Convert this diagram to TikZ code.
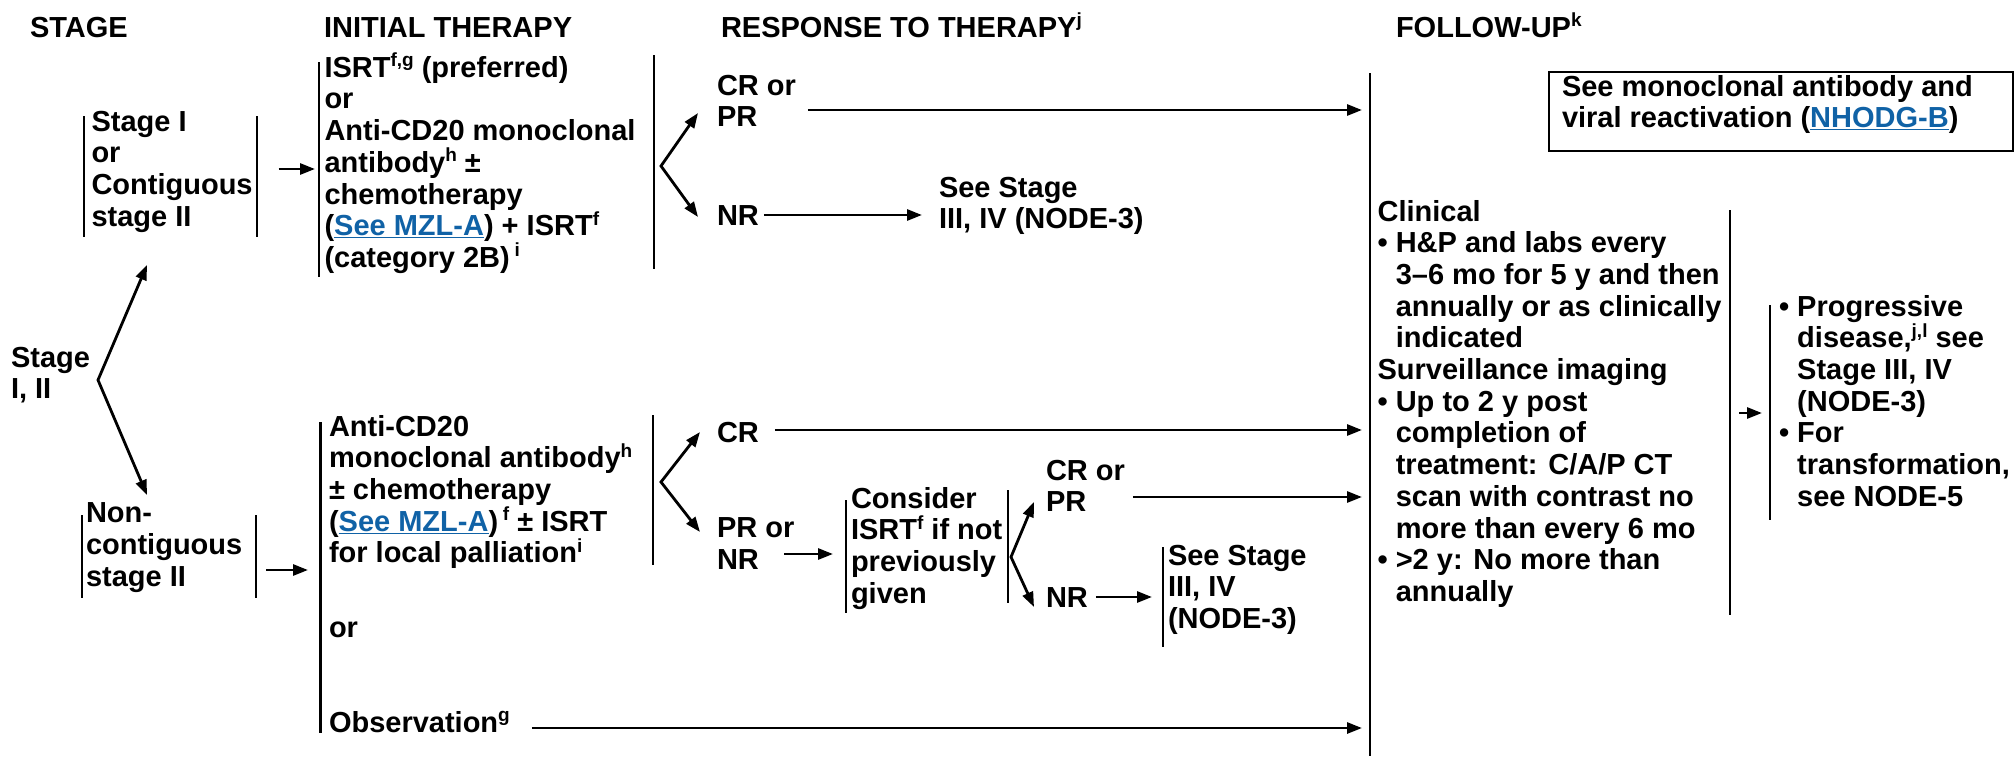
\documentclass[tikz,border=0pt]{standalone}
\usepackage{fontspec}
\setmainfont{Liberation Sans}
\usetikzlibrary{arrows.meta,calc}
\definecolor{linkblue}{RGB}{16,98,166}
\newcommand\sups[1]{\raisebox{10.5pt}{\fontsize{19}{19}\selectfont #1}}
\newcommand\lnk[1]{\textcolor{linkblue}{\underline{#1}}}
\newcommand\ind{\hphantom{•\ }}
\begin{document}
\begin{tikzpicture}[x=1pt,y=-1pt,
  txt/.style={anchor=north west, inner sep=0pt, outer sep=0pt, align=left, yshift=30pt,
    font=\bfseries\fontsize{29}{31.7}\selectfont, execute at begin node={\rule{0pt}{30pt}}},
  bar/.style={line width=2.8pt},
  arr/.style={line width=2.8pt, -{Triangle[length=15pt,width=11pt]}},
  fork/.style={line width=2.8pt, {Triangle[length=15pt,width=11pt]}-{Triangle[length=15pt,width=11pt]}},
]
\fill[white] (0,0) rectangle (2016,756);
\useasboundingbox (0,0) rectangle (2016,756);

% headers
\node[txt] (hStage) at (30,37) {STAGE};
\node[txt] (hInit) at (324,37) {INITIAL THERAPY};
\node[txt] (hResp) at (721,37) {RESPONSE TO THERAPY\sups{j}};
\node[txt] (hFU) at (1396,37) {FOLLOW-UP\sups{k}};

% stage column
\node[txt] (stage12) at (11,377) {Stage\\I, II};
\node[txt] (stageI) at (91.5,141) {Stage I\\or\\Contiguous\\stage II};
\node[txt] (noncont) at (86,533) {Non-\\contiguous\\stage II};

% initial therapy
\node[txt] (initTop) at (324.5,83) {ISRT\sups{f,g} (preferred)\\or\\Anti-CD20 monoclonal\\antibody\sups{h} ±\\chemotherapy\\(\lnk{See MZL-A}) + ISRT\sups{f}\\(category 2B)\,\sups{i}};
\node[txt] (initBot) at (329,445) {Anti-CD20\\monoclonal antibody\sups{h}\\± chemotherapy\\(\lnk{See MZL-A})\,\sups{f} ± ISRT\\for local palliation\sups{i}};
\node[txt] (orBot) at (329,637) {or};
\node[txt] (obs) at (329,732) {Observation\sups{g}};

% response
\node[txt] (crpr1) at (717,105) {CR or\\PR};
\node[txt] (nr1) at (717,225) {NR};
\node[txt] (see1) at (939,207) {See Stage\\III, IV (NODE-3)};
\node[txt] (cr2) at (717,442) {CR};
\node[txt] (prnr) at (717,548) {PR or\\NR};
\node[txt] (consider) at (851,517) {Consider\\ISRT\sups{f} if not\\previously\\given};
\node[txt] (crpr3) at (1046,490) {CR or\\PR};
\node[txt] (nr3) at (1046,607) {NR};
\node[txt] (see3) at (1168,575) {See Stage\\III, IV\\(NODE-3)};

% follow-up
\node[txt] (mab) at (1562,105) {See monoclonal antibody and\\viral reactivation (\lnk{NHODG-B})};
\draw[bar] (1549,72) rectangle (2013,151);
\node[txt] (fuText) at (1377.6,230) {Clinical\\• H\&P and labs every\\\ind 3–6 mo for 5 y and then\\\ind annually or as clinically\\\ind indicated\\Surveillance imaging\\• Up to 2 y post\\\ind completion of\\\ind treatment: C/A/P CT\\\ind scan with contrast no\\\ind more than every 6 mo\\• >2 y: No more than\\\ind annually};
\node[txt] (prog) at (1779,325) {• Progressive\\\ind disease,\sups{j,l} see\\\ind Stage III, IV\\\ind (NODE-3)\\• For\\\ind transformation,\\\ind see NODE-5};

% bars
\draw[bar] (84,116) -- (84,237);
\draw[bar] (257,116) -- (257,237);
\draw[bar] (319,62) -- (319,277);
\draw[bar] (654,55) -- (654,269);
\draw[bar] (82,515) -- (82,598);
\draw[bar] (256,515) -- (256,598);
\draw[bar] (320.5,422) -- (320.5,733);
\draw[bar] (653,415) -- (653,565);
\draw[bar] (846,500) -- (846,613);
\draw[bar] (1008,490) -- (1008,603);
\draw[bar] (1163,547) -- (1163,647);
\draw[bar] (1370,73) -- (1370,756);
\draw[bar] (1730,210) -- (1730,615);
\draw[bar] (1770,305) -- (1770,520);

% coordinates
\coordinate (s12fork) at (98,380);
\coordinate (s1tip) at (147,265);
\coordinate (s2tip) at (147,495);
\coordinate (itIn) at (315,169);
\coordinate (ibIn) at (308,570);
\coordinate (f1) at (661,166);
\coordinate (f1u) at (698,113);
\coordinate (f1d) at (698,217);
\coordinate (f2) at (661,482);
\coordinate (f2u) at (700,432);
\coordinate (f2d) at (700,532);
\coordinate (f3) at (1011,557);
\coordinate (f3u) at (1034,502);
\coordinate (f3d) at (1034,607);
\coordinate (fuA) at (1362,110);
\coordinate (fuB) at (1362,430);
\coordinate (fuC) at (1362,497);
\coordinate (fuD) at (1362,728);
\coordinate (see1In) at (922,215);
\coordinate (conIn) at (833,554);
\coordinate (see3In) at (1152,597);
\coordinate (fuOut) at (1739,413);
\coordinate (progIn) at (1762,413);

% connectors
\draw[fork] (s1tip) -- (s12fork) -- (s2tip);
\draw[fork] (f1u) -- (f1) -- (f1d);
\draw[fork] (f2u) -- (f2) -- (f2d);
\draw[fork] (f3u) -- (f3) -- (f3d);
\draw[arr] ($(stageI.east |- itIn)+(26,0)$) -- (itIn);
\draw[arr] ($(noncont.east |- ibIn)+(24,0)$) -- (ibIn);
\draw[arr] ($(crpr1.east |- fuA)+(12,0)$) -- (fuA);
\draw[arr] ($(nr1.east |- see1In)+(5,0)$) -- (see1In);
\draw[arr] ($(cr2.east |- fuB)+(16,0)$) -- (fuB);
\draw[arr] ($(prnr.east |- conIn)+(-10,0)$) -- (conIn);
\draw[arr] ($(crpr3.east |- fuC)+(8,0)$) -- (fuC);
\draw[arr] ($(nr3.east |- see3In)+(8,0)$) -- (see3In);
\draw[arr] ($(obs.east |- fuD)+(22,0)$) -- (fuD);
\draw[arr] (fuOut) -- (progIn);
\end{tikzpicture}
\end{document}
